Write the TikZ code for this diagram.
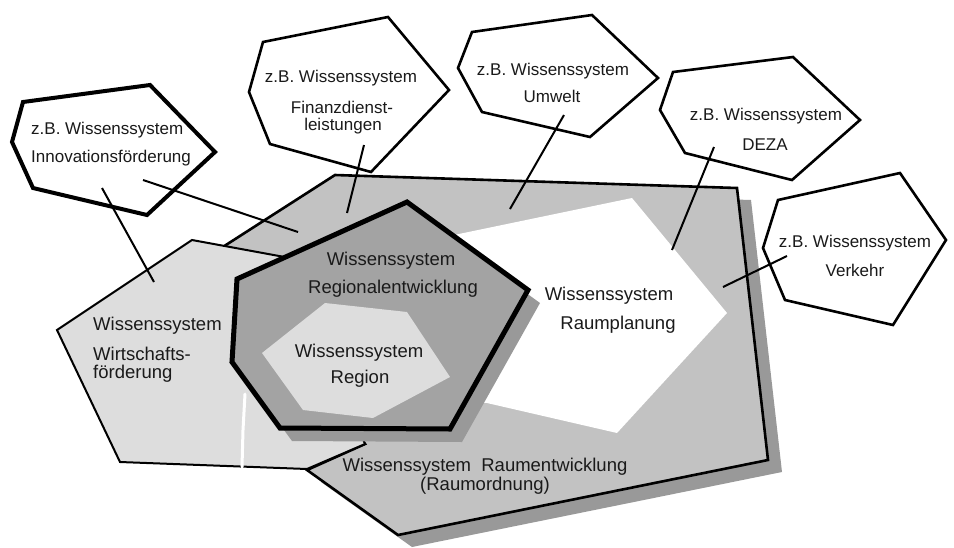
\documentclass[tikz,border=0pt]{standalone}
\usepackage{fontspec}
\setmainfont{Liberation Sans}
\definecolor{ink}{HTML}{1A1A1A}
\definecolor{shadowgray}{HTML}{999999}
\definecolor{areagray}{HTML}{C2C2C2}
\definecolor{palegray}{HTML}{DDDDDD}
\definecolor{coregray}{HTML}{A3A3A3}
\begin{document}
\begin{tikzpicture}[x=1pt,y=-1pt,
  outerbox/.style={draw=black, line width=2.6pt, fill=white, line join=miter},
  pointer/.style={draw=black, line width=2pt},
  smalltext/.style={font=\fontsize{17}{19}\selectfont, text=ink, inner sep=0pt, anchor=base},
  bigtext/.style={font=\fontsize{18.5}{20}\selectfont, text=ink, inner sep=0pt, anchor=base},
]
\useasboundingbox (0,0) rectangle (954,547);

% --- Raumentwicklung: drop shadow and area ---
\fill[shadowgray] (349,187) -- (751,200) -- (782,472) -- (412,547) -- (321,482) -- (379,456) -- (229,264) -- cycle;
\filldraw[fill=areagray, draw=black, line width=2.6pt, line join=miter]
  (335,175) -- (737,188) -- (768,460) -- (398,535) -- (307,470) -- (365,444) -- (215,252) -- cycle;

% --- Raumplanung (white area, no outline) ---
\fill[white] (430,240) -- (632,198) -- (727,313) -- (617,433) -- (487,403) -- (455,400) -- cycle;

% --- Wirtschaftsfoerderung ---
\filldraw[fill=palegray, draw=black, line width=2pt, line join=miter]
  (192,240) -- (290,258) -- (365,444) -- (307,469) -- (120,462) -- (57,330) -- cycle;

% --- Regionalentwicklung: shadow, area, thick outline ---
\fill[shadowgray] (419,215) -- (540,303) -- (462,442) -- (292,441) -- (244,375) -- (249,292) -- cycle;
\filldraw[fill=coregray, draw=black, line width=5pt, line join=miter]
  (407,202) -- (528,290) -- (450,429) -- (280,428) -- (232,362) -- (237,279) -- cycle;

% --- Region ---
\fill[palegray] (325,303) -- (407,312) -- (450,377) -- (373,418) -- (303,410) -- (262,353) -- cycle;

% light streak across the Wirtschaftsfoerderung area
\draw[white, line width=3pt, line cap=round] (245,394) -- (243,430) -- (242,467);

% --- outer knowledge systems ---
\draw[outerbox, line width=4pt] (23,102) -- (150,85) -- (215,152) -- (147,215) -- (33,188) -- (12,142) -- cycle;
\draw[outerbox] (263,42) -- (388,17) -- (449,90) -- (371,172) -- (270,144) -- (249,92) -- cycle;
\draw[outerbox] (472,32) -- (592,15) -- (658,78) -- (590,137) -- (482,112) -- (458,68) -- cycle;
\draw[outerbox] (673,72) -- (793,57) -- (860,120) -- (792,180) -- (685,153) -- (660,110) -- cycle;
\draw[outerbox] (778,200) -- (900,173) -- (946,240) -- (893,325) -- (785,300) -- (763,248) -- cycle;

% --- pointers ---
\coordinate (innoA) at (143,180);   \coordinate (innoB) at (298,232);
\coordinate (innoC) at (102,188);   \coordinate (innoD) at (154,282);
\coordinate (finA) at (364,145);    \coordinate (finB) at (347,213);
\coordinate (umwA) at (564,115);    \coordinate (umwB) at (510,209);
\coordinate (dezaA) at (714,147);   \coordinate (dezaB) at (672,250);
\coordinate (verkA) at (787,256);   \coordinate (verkB) at (723,287);
\draw[pointer] (innoA) -- (innoB);
\draw[pointer] (innoC) -- (innoD);
\draw[pointer] (finA) -- (finB);
\draw[pointer] (umwA) -- (umwB);
\draw[pointer] (dezaA) -- (dezaB);
\draw[pointer] (verkA) -- (verkB);

% --- labels ---
\node[smalltext, anchor=base west] (inno1) at (31,134) {z.B. Wissenssystem};
\node[smalltext, anchor=base west] (inno2) at (31,162) {Innovationsförderung};
\node[smalltext] (fin1) at (341,82) {z.B. Wissenssystem};
\node[smalltext] (fin2) at (342,113) {Finanzdienst-};
\node[smalltext] (fin3) at (343,130) {leistungen};
\node[smalltext] (umw1) at (553,75) {z.B. Wissenssystem};
\node[smalltext] (umw2) at (552,102) {Umwelt};
\node[smalltext] (deza1) at (766,120) {z.B. Wissenssystem};
\node[smalltext] (deza2) at (765,150) {DEZA};
\node[smalltext] (verk1) at (855,247) {z.B. Wissenssystem};
\node[smalltext] (verk2) at (855,276) {Verkehr};

\node[bigtext] (rent1) at (391,265) {Wissenssystem};
\node[bigtext] (rent2) at (393,293) {Regionalentwicklung};
\node[bigtext] (reg1) at (359,357) {Wissenssystem};
\node[bigtext] (reg2) at (360,383) {Region};
\node[bigtext] (rpl1) at (609,300) {Wissenssystem};
\node[bigtext] (rpl2) at (618,329) {Raumplanung};
\node[bigtext, anchor=base west] (wif1) at (93,330) {Wissenssystem};
\node[bigtext, anchor=base west] (wif2) at (93,360) {Wirtschafts-};
\node[bigtext, anchor=base west] (wif3) at (93,378) {förderung};
\node[bigtext] (rew1) at (485,471) {Wissenssystem\ \ Raumentwicklung};
\node[bigtext] (rew2) at (485,490) {(Raumordnung)};
\end{tikzpicture}
\end{document}
